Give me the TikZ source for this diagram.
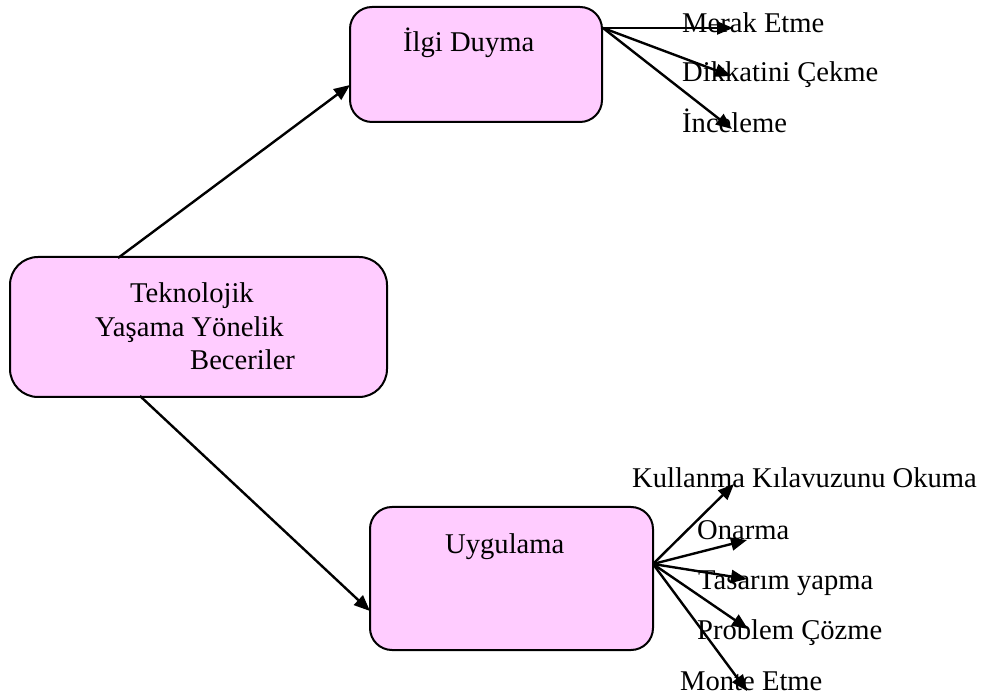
\documentclass[tikz,border=0pt]{standalone}
\usepackage{fontspec}
\setmainfont{Liberation Serif}
\usetikzlibrary{arrows.meta}
\definecolor{boxpink}{HTML}{FFCCFF}
\tikzset{
  topic/.style={draw=black, line width=2pt, fill=boxpink, rounded corners=22pt, inner sep=0pt},
  word/.style={font=\fontsize{28.6}{34}\selectfont, inner sep=0pt, anchor=base west},
  link/.style={line width=2.4pt, -{Triangle[length=16pt,width=13pt]}},
  spoke/.style={line width=2.4pt, -{Triangle[length=16pt,width=13pt]}}
}
\begin{document}
\begin{tikzpicture}[x=1pt,y=-1pt]
\useasboundingbox (0,0) rectangle (989,700);

% main boxes
\node[topic, rounded corners=28pt, minimum width=377pt, minimum height=140pt] (tek) at (198.5,327) {};
\node[topic, minimum width=252pt, minimum height=115pt] (ilgi) at (476,64.5) {};
\node[topic, minimum width=283pt, minimum height=143pt] (uyg) at (511.5,578.5) {};

% box titles
\node[word] (t1) at (130,303) {Teknolojik};
\node[word] (t2) at (95,337) {Yaşama Yönelik};
\node[word] (t3) at (190,370) {Beceriler};
\node[word] (ilgiT) at (403,52) {İlgi Duyma};
\node[word] (uygT) at (445,554) {Uygulama};

% leaf labels
\node[word] (merak) at (682,33) {Merak Etme};
\node[word] (dikkat) at (682,82) {Dikkatini Çekme};
\node[word] (incele) at (682,133) {İnceleme};
\node[word] (kullan) at (632,488) {Kullanma Kılavuzunu Okuma};
\node[word] (onar) at (697,540) {Onarma};
\node[word] (tasar) at (698,590) {Tasarım yapma};
\node[word] (probl) at (697,640) {Problem Çözme};
\node[word] (monte) at (680,690) {Monte Etme};

% attachment points
\coordinate (tekTop) at (118,258);
\coordinate (tekBot) at (140,396);
\coordinate (ilgiIn) at (350,85);
\coordinate (uygIn) at (370,611);
\coordinate (ilgiHub) at (603,28);
\coordinate (uygHub) at (653,564);
\coordinate (tipMerak) at (733,28);
\coordinate (tipDikkat) at (731,76);
\coordinate (tipIncele) at (732,129);
\coordinate (tipKullan) at (734,484);
\coordinate (tipOnar) at (747,540);
\coordinate (tipTasar) at (747,579);
\coordinate (tipProbl) at (748,629);
\coordinate (tipMonte) at (747,691);

% connectors
\draw[link] (tekTop) -- (ilgiIn);
\draw[link] (tekBot) -- (uygIn);
\foreach \t in {tipMerak,tipDikkat,tipIncele}
  \draw[spoke] (ilgiHub) -- (\t);
\foreach \t in {tipKullan,tipOnar,tipTasar,tipProbl,tipMonte}
  \draw[spoke] (uygHub) -- (\t);
\end{tikzpicture}
\end{document}
